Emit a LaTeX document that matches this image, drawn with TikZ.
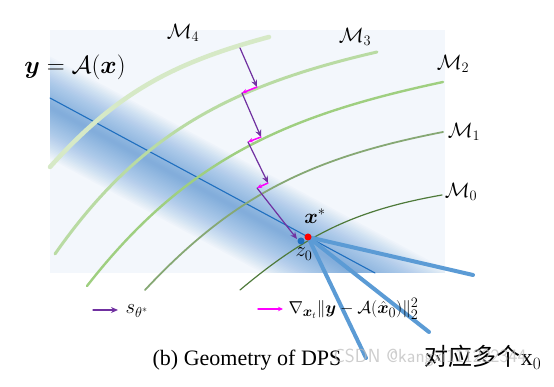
\documentclass[tikz,border=0pt]{standalone}
\usepackage{amsmath,bm}
\usepackage{fontspec}
\setmainfont{Liberation Serif}
\newfontfamily\cjk{Noto Sans CJK SC}
\usetikzlibrary{arrows.meta}
\definecolor{bgblue}{HTML}{F3F7FC}
\definecolor{bandblue}{HTML}{3F88D2}
\definecolor{lineblue}{HTML}{1F6FBF}
\definecolor{rayblue}{HTML}{5B9BD5}
\definecolor{scorepurple}{HTML}{7030A0}
\definecolor{gradpink}{HTML}{FF00FF}
\definecolor{mfour}{HTML}{D6E9C6}
\definecolor{mthree}{HTML}{B9DBA3}
\definecolor{mtwo}{HTML}{9FCF80}
\definecolor{mone}{HTML}{86A874}
\definecolor{mzero}{HTML}{4E7A3A}
\tikzset{
  score/.style={scorepurple, line width=1.2pt, -{Stealth[length=7pt,width=6pt]}},
  grad/.style={gradpink, line width=1.5pt, -{Stealth[length=5pt,width=4.5pt]}},
  ray/.style={rayblue, line width=4pt},
  mlabel/.style={font=\fontsize{22}{24}\selectfont},
}
\begin{document}
\begin{tikzpicture}[x=1pt, y=1pt, line cap=round, line join=round]
\useasboundingbox (0,0) rectangle (554,387);
% background and measurement band
\fill[bgblue] (50,114) rectangle (445,357);
\begin{scope}
  \clip (50,114) rectangle (445,357);
  \path (-44,330) coordinate (bl) (441,69) coordinate (br);
  \foreach \k in {1,...,30}
    \draw[bandblue, line cap=butt, line width=3*\k pt, opacity=0.028] (bl) -- (br);
\end{scope}
\path (50,289) coordinate (yl) (375,114) coordinate (yr);
\draw[lineblue, line width=1.1pt] (yl) -- (yr);
% manifolds
\draw[mfour, line width=4.5pt] (50,220) to[out=48, in=195] (269,350);
\draw[mthree, line width=3pt] (55,133) to[out=55, in=193] (377,335);
\draw[mtwo, line width=2.4pt] (87,101) to[out=52, in=192] (443,305);
\draw[mone, line width=1.8pt] (145,97) to[out=47, in=191] (443,255);
\draw[mzero, line width=1.2pt] (240,97) to[out=40, in=190] (442,192);
\foreach \n/\p in {4/{(183,354)},3/{(355,350)},2/{(453,323)},1/{(464,255)},0/{(461,195)}}
  \node[mlabel] (m\n) at \p {$\mathcal{M}_\n$};
\node[font=\fontsize{29}{32}\selectfont] (meas) at (75,320) {$\bm{y}=\mathcal{A}(\bm{x})$};
% rays to many x0
\path (308,150) coordinate (xs) (301,146) coordinate (z0)
  (473,112) coordinate (r1) (429,55) coordinate (r2) (366,29) coordinate (r3);
\foreach \r in {r1,r2,r3} \draw[ray] (xs) -- (\r);
% DPS steps
\path (240,339) coordinate (a0) (257,300) coordinate (a1) (242,294) coordinate (b1)
  (261,250) coordinate (a2) (248,245) coordinate (b2)
  (268,204) coordinate (a3) (257,199) coordinate (b3) (297,148) coordinate (a4);
\draw[score] (a0) -- (a1);
\foreach \i/\j in {1/2,2/3,3/4} {\draw[grad] (a\i) -- (b\i); \draw[score] (b\i) -- (a\j);}
\fill[red] (xs) circle (3.5);
\fill[lineblue] (z0) circle (3.5);
\node[font=\fontsize{22}{24}\selectfont] (xlab) at (315,171) {$\bm{x}^*$};
\node[font=\fontsize{20}{22}\selectfont] (zlab) at (304,133) {$z_0$};
% legend
\path (93,77) coordinate (l1) (118,77) coordinate (l1e) (258,78) coordinate (l2) (283,78) coordinate (l2e);
\draw[score] (l1) -- (l1e);
\draw[grad] (l2) -- (l2e);
\node[font=\fontsize{20}{22}\selectfont, right] (slab) at (122,76) {$s_{\theta^*}$};
\node[font=\fontsize{19}{22}\selectfont, right] (glab) at (285,78) {$\nabla_{\bm{x}_t}\|\bm{y}-\mathcal{A}(\hat{\bm{x}}_0)\|_2^2$};
\node[font=\fontsize{22}{26}\selectfont] (cap) at (247,27) {(b) Geometry of DPS};
\node[font=\fontsize{24}{28}\selectfont] (many) at (483,30) {\cjk 对应多个\rmfamily x$_0$};
\node[font=\fontsize{19}{22}\sffamily, gray!55, opacity=0.7] (mark) at (430,29) {CSDN @kangxi111222344};
\end{tikzpicture}
\end{document}
